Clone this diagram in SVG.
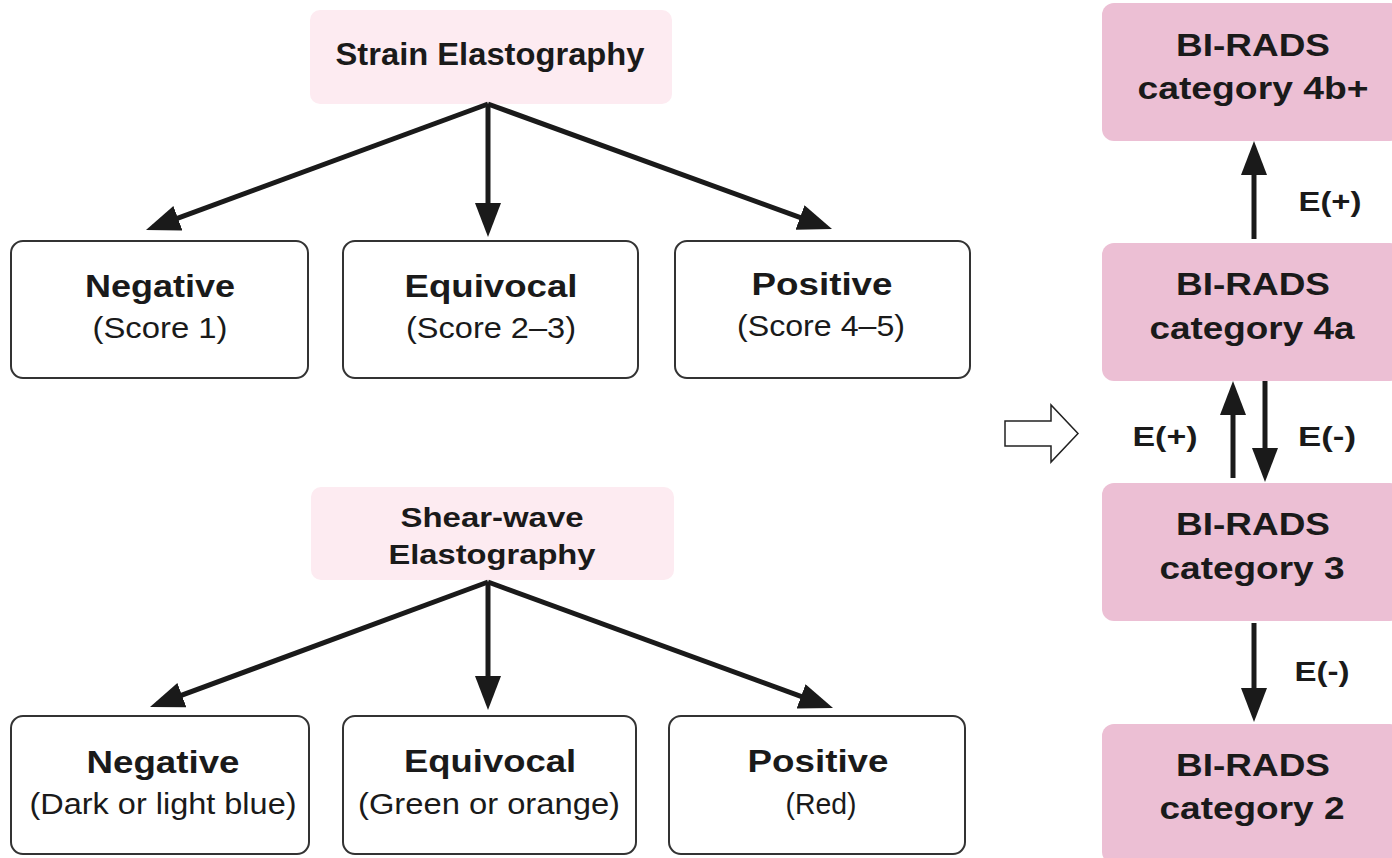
<svg xmlns="http://www.w3.org/2000/svg" width="1392" height="858" viewBox="0 0 1392 858">
<defs>
<style>
.hdr{fill:#fdebf1;}
.opt{fill:#fff;stroke:#333;stroke-width:2;}
.bi{fill:#ecbfd4;}
.t{font-family:"Liberation Sans",Arial,sans-serif;fill:#1a1a1a;text-anchor:middle;}
.b{font-weight:bold;}
.c{stroke:#1a1a1a;stroke-width:5;fill:none;}
</style>
<marker id="ah" markerWidth="34" markerHeight="26" refX="-8" refY="0" viewBox="-34 -13 34 26" orient="auto" markerUnits="userSpaceOnUse">
<path d="M-34,-13 L0,0 L-34,13 Z" fill="#1a1a1a"/>
</marker>
</defs>
<rect width="1392" height="858" fill="#fff"/>

<g id="strain"><rect class="hdr" x="310" y="10" width="362" height="94" rx="10"/>
<text class="t b" x="490" y="65" font-size="31" textLength="309" lengthAdjust="spacingAndGlyphs">Strain Elastography</text></g>
<g id="s-neg"><rect class="opt" x="11" y="241" width="297" height="137" rx="12"/>
<text class="t b" x="160" y="297" font-size="31" textLength="150" lengthAdjust="spacingAndGlyphs">Negative</text>
<text class="t" x="160" y="338" font-size="29" textLength="135" lengthAdjust="spacingAndGlyphs">(Score 1)</text></g>
<g id="s-equ"><rect class="opt" x="343" y="241" width="295" height="137" rx="12"/>
<text class="t b" x="491" y="297" font-size="31" textLength="173" lengthAdjust="spacingAndGlyphs">Equivocal</text>
<text class="t" x="491" y="338" font-size="29" textLength="170" lengthAdjust="spacingAndGlyphs">(Score 2–3)</text></g>
<g id="s-pos"><rect class="opt" x="675" y="241" width="295" height="137" rx="12"/>
<text class="t b" x="822" y="295" font-size="31" textLength="141" lengthAdjust="spacingAndGlyphs">Positive</text>
<text class="t" x="821" y="336" font-size="29" textLength="168" lengthAdjust="spacingAndGlyphs">(Score 4–5)</text></g>

<g id="shear"><rect class="hdr" x="311" y="487" width="363" height="93" rx="10"/>
<text class="t b" x="492" y="527" font-size="28" textLength="183" lengthAdjust="spacingAndGlyphs">Shear-wave</text>
<text class="t b" x="492" y="564" font-size="28" textLength="207" lengthAdjust="spacingAndGlyphs">Elastography</text></g>
<g id="w-neg"><rect class="opt" x="11" y="716" width="298" height="138" rx="12"/>
<text class="t b" x="163" y="773" font-size="31" textLength="153" lengthAdjust="spacingAndGlyphs">Negative</text>
<text class="t" x="163" y="814" font-size="29" textLength="267" lengthAdjust="spacingAndGlyphs">(Dark or light blue)</text></g>
<g id="w-equ"><rect class="opt" x="343" y="716" width="293" height="138" rx="12"/>
<text class="t b" x="490" y="772" font-size="31" textLength="172" lengthAdjust="spacingAndGlyphs">Equivocal</text>
<text class="t" x="489" y="814" font-size="29" textLength="262" lengthAdjust="spacingAndGlyphs">(Green or orange)</text></g>
<g id="w-pos"><rect class="opt" x="669" y="716" width="296" height="138" rx="12"/>
<text class="t b" x="818" y="772" font-size="31" textLength="141" lengthAdjust="spacingAndGlyphs">Positive</text>
<text class="t" x="821" y="814" font-size="29" textLength="71" lengthAdjust="spacingAndGlyphs">(Red)</text></g>

<g id="bi4b"><rect class="bi" x="1102" y="3" width="300" height="138" rx="12"/>
<text class="t b" x="1253" y="56" font-size="31" textLength="154" lengthAdjust="spacingAndGlyphs">BI-RADS</text>
<text class="t b" x="1253" y="99" font-size="31" textLength="231" lengthAdjust="spacingAndGlyphs">category 4b+</text></g>
<g id="bi4a"><rect class="bi" x="1102" y="243" width="300" height="138" rx="12"/>
<text class="t b" x="1253" y="295" font-size="31" textLength="154" lengthAdjust="spacingAndGlyphs">BI-RADS</text>
<text class="t b" x="1252" y="339" font-size="31" textLength="205" lengthAdjust="spacingAndGlyphs">category 4a</text></g>
<g id="bi3"><rect class="bi" x="1102" y="483" width="300" height="138" rx="12"/>
<text class="t b" x="1253" y="535" font-size="31" textLength="154" lengthAdjust="spacingAndGlyphs">BI-RADS</text>
<text class="t b" x="1252" y="579" font-size="31" textLength="185" lengthAdjust="spacingAndGlyphs">category 3</text></g>
<g id="bi2"><rect class="bi" x="1102" y="724" width="300" height="140" rx="12"/>
<text class="t b" x="1253" y="776" font-size="31" textLength="154" lengthAdjust="spacingAndGlyphs">BI-RADS</text>
<text class="t b" x="1252" y="819" font-size="31" textLength="185" lengthAdjust="spacingAndGlyphs">category 2</text></g>

<g id="connectors">
<path class="c" d="M488,104 L153.5,227.2" marker-end="url(#ah)"/>
<path class="c" d="M488,104 L488,229" marker-end="url(#ah)"/>
<path class="c" d="M488,104 L824.5,226.3" marker-end="url(#ah)"/>
<path class="c" d="M488,582 L157.5,704.2" marker-end="url(#ah)"/>
<path class="c" d="M488,582 L488,702" marker-end="url(#ah)"/>
<path class="c" d="M488,582 L825.5,705.3" marker-end="url(#ah)"/>
<path class="c" d="M1254,239 L1254,149" marker-end="url(#ah)"/>
<path class="c" d="M1233,478 L1233,389" marker-end="url(#ah)"/>
<path class="c" d="M1265,381 L1265,474" marker-end="url(#ah)"/>
<path class="c" d="M1254,623 L1254,714" marker-end="url(#ah)"/>
<path d="M1005,421 L1051,421 L1051,405 L1078,433.5 L1051,462 L1051,446 L1005,446 Z" fill="#fff" stroke="#222" stroke-width="1.5"/>
<text class="t b" x="1330" y="211" font-size="28" textLength="63" lengthAdjust="spacingAndGlyphs">E(+)</text>
<text class="t b" x="1165" y="446" font-size="28" textLength="65" lengthAdjust="spacingAndGlyphs">E(+)</text>
<text class="t b" x="1327" y="446" font-size="28" textLength="58" lengthAdjust="spacingAndGlyphs">E(-)</text>
<text class="t b" x="1322" y="681" font-size="28" textLength="55" lengthAdjust="spacingAndGlyphs">E(-)</text>
</g>
</svg>
